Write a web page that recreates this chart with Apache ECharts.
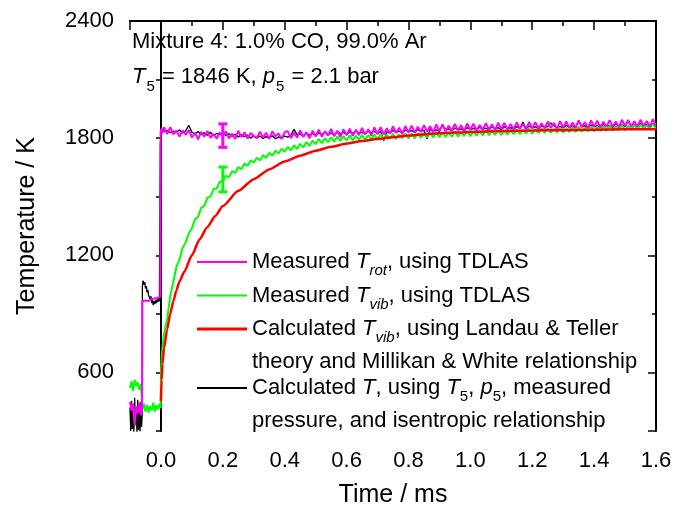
<!DOCTYPE html>
<html><head><meta charset="utf-8">
<script src="https://cdn.jsdelivr.net/npm/echarts@6/dist/echarts.min.js"></script>
<style>html,body{margin:0;padding:0;background:#fff}#c{width:689px;height:513px}</style>
</head><body><div id="c"></div>
<script>
const FONT = '"Liberation Sans", Arial, Helvetica, sans-serif';

// Axis ranges
const xMin = -0.1, xMax = 1.6;
const yMin = 300, yMax = 2400;

// Common time grid after the reflected shock (ms)
const tPost = [0.01,0.02,0.03,0.04,0.05,0.06,0.07,0.08,0.09,0.10,
0.11,0.12,0.13,0.14,0.15,0.16,0.17,0.18,0.19,0.20,
0.21,0.22,0.23,0.24,0.25,0.26,0.27,0.28,0.29,0.30,
0.31,0.32,0.33,0.34,0.35,0.36,0.37,0.38,0.39,0.40,
0.41,0.42,0.43,0.44,0.45,0.46,0.47,0.48,0.49,0.50,
0.51,0.52,0.53,0.54,0.55,0.56,0.57,0.58,0.59,0.60,
0.61,0.62,0.63,0.64,0.65,0.66,0.67,0.68,0.69,0.70,
0.71,0.72,0.73,0.74,0.75,0.76,0.77,0.78,0.79,0.80,
0.81,0.82,0.83,0.84,0.85,0.86,0.87,0.88,0.89,0.90,
0.91,0.92,0.93,0.94,0.95,0.96,0.97,0.98,0.99,1.00,
1.01,1.02,1.03,1.04,1.05,1.06,1.07,1.08,1.09,1.10,
1.11,1.12,1.13,1.14,1.15,1.16,1.17,1.18,1.19,1.20,
1.21,1.22,1.23,1.24,1.25,1.26,1.27,1.28,1.29,1.30,
1.31,1.32,1.33,1.34,1.35,1.36,1.37,1.38,1.39,1.40,
1.41,1.42,1.43,1.44,1.45,1.46,1.47,1.48,1.49,1.50,
1.51,1.52,1.53,1.54,1.55,1.56,1.57,1.58,1.59,1.60];

// Measured T_rot (TDLAS)
const rotPreTime = [-0.100,-0.095,-0.090,-0.085,-0.080,-0.075,-0.070,-0.065,-0.061,-0.060,-0.055,-0.050,-0.045,-0.040,-0.035,-0.030,-0.025,-0.020,-0.015,-0.010,-0.005,-0.002,-0.001,0.003,0.006];
const rotPreTemp = [450,405,440,330,425,390,445,380,415,965,975,968,973,966,971,976,972,979,975,982,985,988,1835,1850,1828];
const rotPostTemp = [1856,1821,1856,1820,1838,1808,1840,1818,1842,1803,
1826,1794,1832,1807,1837,1802,1821,1797,1829,1808,
1834,1799,1823,1795,1838,1805,1830,1798,1826,1810,
1800,1833,1804,1828,1796,1835,1809,1824,1795,1831,
1835,1800,1827,1803,1840,1806,1831,1799,1838,1808,
1843,1806,1836,1812,1847,1809,1838,1805,1845,1814,
1848,1812,1843,1815,1852,1818,1846,1813,1855,1820,
1856,1820,1850,1823,1860,1826,1853,1821,1862,1828,
1864,1828,1858,1831,1867,1833,1861,1829,1870,1836,
1870,1835,1864,1838,1873,1840,1866,1836,1875,1842,
1874,1839,1868,1842,1877,1844,1870,1840,1879,1846,
1878,1843,1872,1846,1881,1848,1874,1844,1883,1850,
1882,1847,1876,1850,1885,1852,1878,1848,1887,1854,
1886,1851,1880,1854,1889,1856,1882,1852,1891,1858,
1890,1855,1884,1857,1892,1859,1885,1855,1894,1861,
1893,1858,1887,1860,1895,1862,1888,1858,1897,1864];

// Calculated T (T5, p5, measured pressure, isentropic)
const calcPreTime = [-0.100,-0.0975,-0.095,-0.0925,-0.090,-0.0875,-0.085,-0.0825,-0.080,-0.0775,-0.075,-0.0725,-0.070,-0.0675,-0.065,-0.0625,-0.061,
-0.060,-0.058,-0.055,-0.052,-0.050,-0.047,-0.045,-0.042,-0.040,-0.037,-0.035,-0.032,-0.030,-0.027,-0.025,-0.022,-0.020,-0.017,-0.015,-0.012,-0.010,-0.007,-0.005,-0.002,
0.000,0.003,0.006];
const calcPreTemp = [420,300,455,310,440,295,470,330,415,295,460,305,430,298,450,320,380,
1040,1070,1050,1062,1030,1042,1010,1022,995,1002,975,990,955,970,945,965,950,970,955,975,960,980,965,
1770,1805,1828];
const calcPostTemp = [1832,1840,1828,1836,1830,1842,1826,1838,1866,1830,
1822,1834,1818,1828,1815,1830,1812,1824,1818,1826,
1814,1822,1810,1820,1806,1818,1808,1815,1800,1812,
1803,1810,1798,1808,1800,1812,1797,1806,1802,1810,
1805,1815,1845,1818,1822,1810,1826,1815,1824,1812,
1828,1818,1832,1820,1826,1816,1834,1822,1830,1818,
1832,1824,1836,1826,1830,1822,1838,1828,1834,1824,
1836,1788,1832,1826,1840,1830,1836,1828,1842,1832,
1838,1830,1844,1836,1840,1796,1846,1836,1842,1834,
1868,1842,1848,1838,1852,1842,1848,1838,1854,1844,
1850,1842,1856,1846,1852,1842,1858,1848,1854,1844,
1858,1848,1854,1846,1860,1850,1882,1848,1862,1852,
1858,1848,1864,1854,1860,1878,1864,1854,1860,1852,
1866,1856,1862,1852,1890,1858,1864,1854,1868,1858,
1864,1856,1870,1860,1866,1856,1872,1862,1868,1858,
1888,1862,1870,1860,1876,1864,1870,1862,1874,1866];

// Measured T_vib (TDLAS)
const vibPreTime = [-0.100,-0.095,-0.090,-0.085,-0.080,-0.075,-0.070,-0.065,-0.062,-0.060,-0.055,-0.050,-0.045,-0.040,-0.035,-0.030,-0.025,-0.020,-0.015,-0.010,-0.005,-0.001,0.000,0.003,0.006];
const vibPreTemp = [520,555,505,562,532,548,512,540,470,410,440,398,432,395,428,405,445,400,432,410,440,418,600,690,745];
const vibPostTemp = [795,874,990,1064,1140,1180,1238,1267,1312,1338,
1384,1397,1443,1453,1494,1501,1539,1542,1577,1578,
1607,1600,1631,1622,1652,1641,1670,1658,1686,1675,
1700,1687,1714,1699,1725,1710,1736,1721,1746,1730,
1755,1737,1764,1744,1771,1753,1780,1760,1787,1769,
1796,1774,1800,1779,1805,1782,1808,1786,1811,1788,
1814,1790,1812,1792,1816,1791,1815,1794,1818,1793,
1820,1795,1817,1797,1822,1796,1819,1800,1824,1798,
1825,1800,1826,1801,1822,1803,1829,1804,1827,1805,
1831,1806,1828,1808,1834,1809,1830,1811,1837,1810,
1834,1813,1838,1814,1840,1815,1836,1817,1843,1816,
1840,1819,1844,1820,1846,1821,1842,1824,1849,1823,
1846,1825,1851,1826,1852,1828,1848,1830,1855,1829,
1852,1831,1857,1832,1858,1834,1854,1836,1861,1835,
1858,1837,1863,1838,1864,1840,1860,1842,1867,1841,
1864,1843,1869,1844,1870,1846,1866,1848,1873,1847];

// Calculated T_vib (Landau-Teller / Millikan-White)
const ltTime = [0,0.002,0.005,0.01,0.02,0.03,0.04,0.05,0.06,0.075,0.1,0.125,0.15,0.175,0.2,0.25,0.3,0.35,0.4,0.45,0.5,0.55,0.6,0.65,0.7,0.75,0.8,0.85,0.9,1.0,1.1,1.2,1.3,1.4,1.5,1.6];
const ltTemp = [453,560,645,723,820,900,965,1020,1066,1114,1200,1282,1345,1400,1452,1530,1590,1640,1680,1710,1736,1756,1772,1785,1796,1805,1813,1820,1825,1832,1836,1839,1841,1843,1845,1846];

// Error bars at t = 0.2 ms
const errTime = [0.2];
const rotErrLow = [1753], rotErrHigh = [1873];
const vibErrLow = [1525], vibErrHigh = [1652];

function zip(t, v) { return t.map((x, i) => [x, v[i]]); }
const rotData = zip(rotPreTime, rotPreTemp).concat(zip(tPost, rotPostTemp));
const calcData = zip(calcPreTime, calcPreTemp).concat(zip(tPost, calcPostTemp));
const vibData = zip(vibPreTime, vibPreTemp).concat(zip(tPost, vibPostTemp));
const ltData = zip(ltTime, ltTemp);
const rotErr = errTime.map((t, i) => [t, rotErrLow[i], rotErrHigh[i]]);
const vibErr = errTime.map((t, i) => [t, vibErrLow[i], vibErrHigh[i]]);

const FS = 22;
const richStyles = {
  i: {fontFamily: FONT, fontSize: FS, fontStyle: 'italic', lineHeight: 33, color: '#000'},
  si: {fontFamily: FONT, fontSize: 15, fontStyle: 'italic', lineHeight: 18, verticalAlign: 'bottom', color: '#000'},
  s: {fontFamily: FONT, fontSize: 15, lineHeight: 18, verticalAlign: 'bottom', color: '#000'},
  b: {fontFamily: FONT, fontSize: FS, lineHeight: 33, color: '#000'}
};
const legendText = {fontFamily: FONT, fontSize: FS, color: '#000', lineHeight: 33, rich: richStyles};

function mkLegend(name, top, text, thick) {
  return {
    show: true, orient: 'vertical', left: 197, top: top, padding: 0,
    icon: 'rect', itemWidth: 50, itemHeight: thick, selectedMode: false,
    data: [{name: name}], formatter: () => text, textStyle: legendText
  };
}

function errRender(color) {
  return function (params, api) {
    const x = api.value(0);
    const lo = api.coord([x, api.value(1)]);
    const hi = api.coord([x, api.value(2)]);
    const w = 4.5;
    const st = {stroke: color, lineWidth: 3};
    return {type: 'group', children: [
      {type: 'line', shape: {x1: lo[0], y1: lo[1], x2: hi[0], y2: hi[1]}, style: st},
      {type: 'line', shape: {x1: lo[0] - w, y1: lo[1], x2: lo[0] + w, y2: lo[1]}, style: st},
      {type: 'line', shape: {x1: hi[0] - w, y1: hi[1], x2: hi[0] + w, y2: hi[1]}, style: st}
    ]};
  };
}

const axLine = {show: true, lineStyle: {color: '#000', width: 2}};
const tickStyle = {color: '#000', width: 1.5};

const chart = echarts.init(document.getElementById('c'), null, {renderer: 'canvas'});
chart.setOption({
  animation: false,
  backgroundColor: '#fff',
  grid: {left: 130, right: 33, top: 21, bottom: 80, containLabel: false},
  title: {
    left: 132, top: 24, padding: 0,
    text: 'Mixture 4: 1.0% CO, 99.0% Ar\n{i|T}{s|5} = 1846 K, {i|p}{s|5} = 2.1 bar',
    textStyle: {fontFamily: FONT, fontSize: FS, fontWeight: 'normal', color: '#000', lineHeight: 35,
      rich: {
        i: {fontFamily: FONT, fontSize: FS, fontStyle: 'italic', lineHeight: 35, color: '#000'},
        s: {fontFamily: FONT, fontSize: 15, lineHeight: 22, verticalAlign: 'bottom', color: '#000', padding: [0, 1, 0, 1]}
      }}
  },
  legend: [
    mkLegend('Trot', 245.5, 'Measured {i|T}{si|rot}, using TDLAS', 2),
    mkLegend('Tvib', 279, 'Measured {i|T}{si|vib}, using TDLAS', 2),
    mkLegend('TvibLT', 279.5, '{b| }\nCalculated {i|T}{si|vib}, using Landau & Teller\ntheory and Millikan & White relationship', 3),
    mkLegend('Tcalc', 338.5, '{b| }\nCalculated {i|T}, using {i|T}{s|5}, {i|p}{s|5}, measured\npressure, and isentropic relationship', 2)
  ],
  xAxis: [
    {type: 'value', position: 'bottom', min: xMin, max: xMax, interval: 0.1,
      name: 'Time / ms', nameLocation: 'middle', nameGap: 52,
      nameTextStyle: {fontFamily: FONT, fontSize: 25, color: '#000'},
      axisLine: axLine, axisTick: {show: true, length: 5, lineStyle: tickStyle},
      axisLabel: {margin: 19, fontFamily: FONT, fontSize: FS, color: '#000',
        formatter: v => { const k = Math.round(v * 10); return (k >= 0 && k % 2 === 0) ? (k / 10).toFixed(1) : ''; }},
      splitLine: {show: false}},
    {type: 'value', position: 'bottom', inverse: true, min: 0, max: 1.7, interval: 0.2,
      axisLine: {show: false}, axisTick: {show: true, length: 9, lineStyle: tickStyle},
      axisLabel: {show: false}, splitLine: {show: false}},
    {type: 'value', position: 'top', inverse: true, min: 0, max: 1.7, interval: 0.2,
      axisLine: axLine, axisTick: {show: true, inside: true, length: 5, lineStyle: tickStyle},
      axisLabel: {show: false}, splitLine: {show: false}}
  ],
  yAxis: [
    {type: 'value', position: 'left', min: yMin, max: yMax, interval: 300,
      name: 'Temperature / K', nameLocation: 'middle', nameGap: 90,
      nameTextStyle: {fontFamily: FONT, fontSize: 25, color: '#000'},
      axisLine: axLine, axisTick: {show: true, length: 5, lineStyle: tickStyle},
      axisLabel: {margin: 16, fontFamily: FONT, fontSize: FS, color: '#000',
        formatter: v => (v % 600 === 0 ? String(v) : '')},
      splitLine: {show: false}},
    {type: 'value', position: 'left', inverse: true, min: 0, max: 2100, interval: 600,
      axisLine: {show: false}, axisTick: {show: true, length: 8, lineStyle: tickStyle},
      axisLabel: {show: false}, splitLine: {show: false}},
    {type: 'value', position: 'right', min: yMin, max: yMax, interval: 300,
      axisLine: axLine, axisTick: {show: true, inside: true, length: 4, lineStyle: tickStyle},
      axisLabel: {show: false}, splitLine: {show: false}},
    {type: 'value', position: 'right', inverse: true, min: 0, max: 2100, interval: 600,
      axisLine: {show: false}, axisTick: {show: true, inside: true, length: 7, lineStyle: tickStyle},
      axisLabel: {show: false}, splitLine: {show: false}}
  ],
  series: [
    {name: 'Tcalc', type: 'line', data: calcData, symbol: 'none', color: '#000000',
      lineStyle: {color: '#000000', width: 1.3}, z: 2},
    {name: 'Tvib', type: 'line', data: vibData, symbol: 'none', color: '#00ff00',
      lineStyle: {color: '#00ff00', width: 2}, z: 3},
    {name: 'TvibLT', type: 'line', data: ltData, symbol: 'none', color: '#ff0000',
      smooth: 0.2, smoothMonotone: 'x',
      lineStyle: {color: '#ff0000', width: 2.5}, z: 4},
    {name: 'Trot', type: 'line', data: rotData, symbol: 'none', color: '#ff00ff',
      lineStyle: {color: '#ff00ff', width: 2}, z: 5},
    {name: 'rotErr', type: 'custom', data: rotErr, renderItem: errRender('#ff00ff'),
      encode: {x: 0, y: [1, 2]}, z: 6},
    {name: 'vibErr', type: 'custom', data: vibErr, renderItem: errRender('#00ff00'),
      encode: {x: 0, y: [1, 2]}, z: 6}
  ]
});
</script>
</body></html>
